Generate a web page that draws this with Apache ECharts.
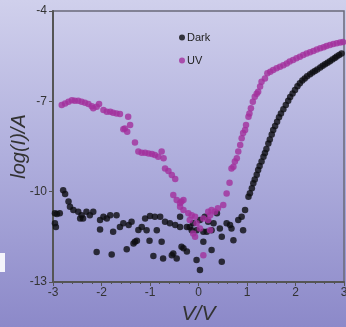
<!DOCTYPE html>
<html>
<head>
<meta charset="utf-8">
<script src="https://cdn.jsdelivr.net/npm/echarts@6/dist/echarts.min.js"></script>
<style>
  html, body { margin: 0; padding: 0; }
  #chart { width: 346px; height: 327px; }
</style>
</head>
<body>
<div id="chart"></div>
<script>
// [V, log(I)]
const darkPoints = [
  [-2.96, -10.72], [-2.92, -10.74], [-2.86, -10.72], [-2.96, -11.05], [-2.94, -11.17],
  [-2.79, -9.95], [-2.75, -10.08], [-2.68, -10.33], [-2.65, -10.5], [-2.58, -10.61],
  [-2.48, -10.67], [-2.41, -10.78], [-2.38, -10.89], [-2.44, -10.89], [-2.31, -10.67], [-2.24, -10.78], [-2.17, -10.67],
  [-2.1, -12.0], [-2.03, -11.26], [-2.03, -10.94], [-1.96, -10.83], [-1.89, -10.89], [-1.82, -10.78], [-1.79, -12.09],
  [-1.76, -11.33], [-1.69, -10.78], [-1.62, -11.17], [-1.55, -11.05], [-1.48, -11.91], [-1.44, -11.11], [-1.38, -11.0],
  [-1.34, -11.72], [-1.31, -11.66], [-1.27, -11.63], [-1.24, -11.27], [-1.17, -11.17], [-1.1, -10.89], [-1.07, -11.28],
  [-1.01, -11.63], [-1.0, -10.81], [-0.93, -12.14], [-0.9, -10.83], [-0.86, -11.28], [-0.79, -10.83], [-0.76, -11.66],
  [-0.73, -12.22], [-0.69, -11.0], [-0.59, -11.05], [-0.55, -12.11], [-0.52, -12.05], [-0.48, -11.11], [-0.45, -12.22],
  [-0.38, -11.17], [-0.38, -10.83], [-0.35, -11.83], [-0.31, -11.88], [-0.24, -11.99], [-0.24, -11.17], [-0.18, -11.17],
  [-0.14, -11.28], [-0.11, -11.05], [-0.04, -11.28], [-0.04, -12.27], [0.03, -12.6], [0.03, -10.94],
  [0.1, -11.66], [0.1, -11.33], [0.13, -10.83], [0.17, -11.33], [0.2, -11.0], [0.27, -11.94], [0.27, -11.28],
  [0.31, -11.05], [0.38, -10.72], [0.44, -11.22], [0.48, -11.5], [0.48, -12.33], [0.58, -11.05], [0.65, -11.11],
  [0.68, -11.22], [0.72, -11.61], [0.82, -10.94], [0.89, -10.83], [0.92, -11.28], [0.96, -10.61],
  [1.03, -10.17], [1.06, -10.05], [1.1, -9.89], [1.13, -9.72], [1.16, -9.6], [1.2, -9.44], [1.23, -9.28],
  [1.26, -9.15], [1.3, -9.0], [1.34, -8.84], [1.37, -8.72], [1.4, -8.58], [1.44, -8.4], [1.47, -8.27],
  [1.51, -8.1], [1.54, -7.95], [1.58, -7.82], [1.62, -7.68], [1.66, -7.53], [1.7, -7.4], [1.75, -7.26],
  [1.8, -7.12], [1.85, -6.98], [1.89, -6.86], [1.94, -6.74], [1.99, -6.62], [2.04, -6.5], [2.09, -6.4],
  [2.14, -6.31], [2.19, -6.24], [2.24, -6.17], [2.3, -6.1], [2.35, -6.04], [2.4, -5.99], [2.45, -5.94],
  [2.51, -5.88], [2.56, -5.82], [2.61, -5.77], [2.66, -5.72], [2.71, -5.67], [2.76, -5.61], [2.81, -5.56],
  [2.85, -5.51], [2.9, -5.46], [2.95, -5.41]
];

const uvPoints = [
  [-2.82, -7.12], [-2.75, -7.07], [-2.68, -7.01], [-2.61, -6.96], [-2.55, -6.98], [-2.48, -6.98], [-2.41, -7.01],
  [-2.34, -7.05], [-2.27, -7.09], [-2.2, -7.16], [-2.17, -7.23], [-2.1, -7.18], [-2.05, -7.09],
  [-1.96, -7.29], [-1.89, -7.35], [-1.82, -7.35], [-1.76, -7.38], [-1.69, -7.4], [-1.62, -7.42], [-1.45, -7.51],
  [-1.41, -7.79], [-1.55, -7.93], [-1.52, -7.9], [-1.47, -8.01],
  [-1.31, -8.37], [-1.24, -8.67], [-1.17, -8.71], [-1.1, -8.71], [-1.03, -8.73], [-0.96, -8.75], [-0.9, -8.78],
  [-0.83, -8.84], [-0.76, -8.67], [-0.72, -8.89],
  [-0.69, -9.23], [-0.62, -9.31], [-0.55, -9.45], [-0.48, -9.58], [-0.52, -10.11], [-0.45, -10.28], [-0.35, -10.33],
  [-0.38, -10.5], [-0.31, -10.61], [-0.38, -10.38], [-0.31, -10.28],
  [-0.21, -10.72], [-0.14, -10.78], [-0.07, -10.83], [-0.18, -10.94], [-0.04, -11.05], [0.03, -11.22], [-0.11, -11.39],
  [-0.07, -11.5], [0.1, -12.11], [0.1, -10.89], [0.2, -10.94], [0.24, -10.78], [0.2, -10.67], [0.27, -10.61],
  [0.34, -10.67], [0.24, -11.28], [0.4, -10.55],
  [0.51, -10.44], [0.58, -10.06], [0.64, -9.7], [0.68, -9.23], [0.72, -9.17], [0.75, -9.0], [0.79, -8.89],
  [0.82, -8.67], [0.86, -8.45], [0.89, -8.23], [0.92, -8.05], [0.96, -7.95], [0.98, -7.79], [1.03, -7.51],
  [1.05, -7.4], [1.08, -7.23], [1.12, -7.01], [1.16, -6.85], [1.2, -6.75], [1.23, -6.68], [1.27, -6.51],
  [1.3, -6.35], [1.37, -6.24], [1.42, -6.07], [1.48, -6.02], [1.54, -5.96], [1.61, -5.9], [1.68, -5.85],
  [1.75, -5.8], [1.82, -5.74], [1.88, -5.68], [1.95, -5.63], [2.02, -5.57], [2.09, -5.52], [2.16, -5.46],
  [2.23, -5.41], [2.3, -5.37], [2.37, -5.33], [2.44, -5.28], [2.51, -5.24], [2.58, -5.2], [2.64, -5.16],
  [2.71, -5.13], [2.78, -5.1], [2.85, -5.07], [2.92, -5.05], [2.98, -5.03]
];

const yTicks = [-13, -10, -7, -4];
const xRange = [-3, 3];

const chart = echarts.init(document.getElementById("chart"));

chart.setOption({
  animation: false,
  backgroundColor: {
    type: "linear",
    x: 0, y: 0, x2: 0, y2: 1,
    colorStops: [
      { offset: 0, color: "#d0d0ec" },
      { offset: 0.5, color: "#aeaddc" },
      { offset: 1, color: "#8c89c9" },
    ],
  },
  graphic: [
    // white patch at left edge of the reference
    { type: "rect", left: 0, top: 253, shape: { width: 5, height: 19 }, style: { fill: "#f4f4fb" } },
  ],
  legend: {
    orient: "vertical",
    left: 174,
    top: 27,
    itemWidth: 6,
    itemHeight: 6,
    itemGap: 12,
    textStyle: { fontFamily: "Liberation Sans", fontSize: 11, color: "#222", padding: [0, 0, 0, -3] },
    data: [
      { name: "Dark", icon: "circle" },
      { name: "UV", icon: "circle" },
    ],
  },
  grid: {
    left: 53,
    right: 2,
    top: 11,
    bottom: 45,
    outerBoundsMode: "none",
    show: true,
    borderColor: "#6a6a7a",
    borderWidth: 1.5,
    backgroundColor: "transparent",
  },
  xAxis: {
    type: "value",
    min: xRange[0],
    max: xRange[1],
    interval: 1,
    name: "V/V",
    nameLocation: "middle",
    nameGap: 20,
    nameTextStyle: { fontFamily: "Liberation Sans", fontStyle: "italic", fontSize: 21, color: "#333" },
    axisLine: { onZero: false, lineStyle: { color: "#555", width: 2 } },
    axisTick: { length: 4, lineStyle: { color: "#555" } },
    minorTick: { show: true, splitNumber: 5, length: 2, lineStyle: { color: "#555" } },
    axisLabel: { fontFamily: "Liberation Sans", fontSize: 12, color: "#333", margin: 5 },
    splitLine: { show: false },
  },
  yAxis: {
    type: "value",
    min: yTicks[0],
    max: yTicks[yTicks.length - 1],
    name: "log(I)/A",
    nameLocation: "middle",
    nameGap: 24,
    nameMoveOverlap: false,
    nameTextStyle: { fontFamily: "Liberation Sans", fontStyle: "italic", fontSize: 20, color: "#333" },
    axisLine: { show: true, onZero: false, lineStyle: { color: "#555", width: 2 } },
    axisTick: { show: true, length: 4, customValues: yTicks, lineStyle: { color: "#555" } },
    axisLabel: {
      customValues: yTicks,
      fontFamily: "Liberation Sans",
      fontSize: 12,
      color: "#333",
      margin: 6,
    },
    splitLine: { show: false },
  },
  series: [
    {
      name: "Dark",
      type: "scatter",
      symbolSize: 6.5,
      itemStyle: { color: "#0c0c10" },
      data: darkPoints,
    },
    {
      name: "UV",
      type: "scatter",
      symbolSize: 6.5,
      itemStyle: { color: "#a3309c" },
      data: uvPoints,
    },
  ],
});
</script>
</body>
</html>
